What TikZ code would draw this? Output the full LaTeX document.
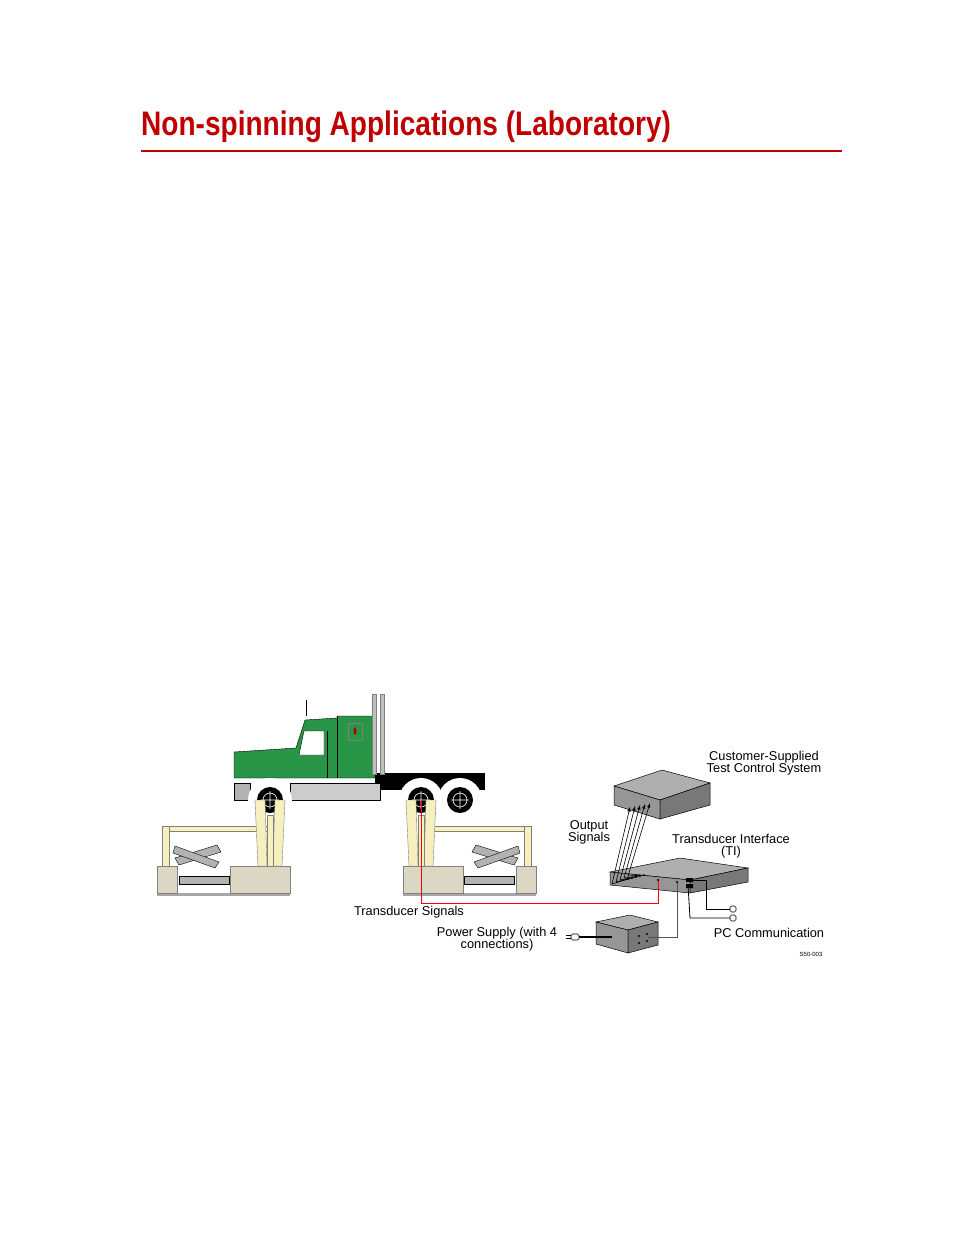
\documentclass[tikz,border=0pt]{standalone}
\usepackage{fontspec}
\setmainfont{Liberation Sans}
\usetikzlibrary{calc}
\definecolor{titlered}{RGB}{192,0,0}
\definecolor{cabgreen}{RGB}{40,150,70}
\definecolor{boxgray}{RGB}{150,150,150}
\definecolor{boxtop}{RGB}{175,175,175}
\definecolor{boxside}{RGB}{120,120,120}
\definecolor{rigyellow}{RGB}{245,240,190}
\definecolor{rigbeige}{RGB}{220,215,195}
\tikzset{
  lbl/.style={font=\fontsize{12.8}{12}\selectfont, align=center, inner sep=1pt},
  wire/.style={line width=0.8pt, black},
  face/.style={draw=black, line width=0.5pt},
  plug/.style={draw=black, line width=0.6pt, fill=white, rounded corners=1.5pt}
}
\begin{document}
\begin{tikzpicture}[x=1pt,y=-1pt]
    \useasboundingbox (0,0) rectangle (954,1235);
    % title
    \node[anchor=base west, inner sep=0, text=titlered, font=\fontsize{34}{34}\selectfont\bfseries, xscale=0.825, transform shape] (title) at (141,135) {Non-spinning Applications (Laboratory)};
    \draw[titlered, line width=1.2pt] (141,151) -- (842,151);
    % truck
    \fill[cabgreen, draw=black] (234,778) -- (234,752) -- (296,748) -- (305,720) -- (337,718) -- (337,716) -- (375,716) -- (375,778) -- cycle;
    \fill[white, draw=black] (304,731) -- (324,731) -- (324,755) -- (299,755) -- cycle;
    \draw[black] (337,716) -- (337,778) (327,731) -- (327,778);
    \fill[red!70!black] (355,731) ellipse (1.5 and 4);
    \draw[gray] (348,723) rectangle (362,740);
    \fill[black] (375,773) rectangle (485,790);
    \fill[gray!40, draw=black] (290,783) rectangle (380,800);
    \fill[gray!60, draw=black] (234,783) rectangle (250,800);
    \foreach \x in {372,380} {
      \fill[gray!50, draw=gray] (\x,694) rectangle ++(4,80);
    }
    \draw[black] (306,716) -- (306,700);
    \foreach \x/\n in {270/wf, 421/wr, 460/wt} {
      \fill[white] (\x,800) circle (22);
      \node[circle, fill=black, minimum size=26pt, inner sep=0] (\n) at (\x,800) {};
      \draw[white, line width=0.6pt] (\x,800) circle (7) (\x-9,800) -- (\x+9,800) (\x,791) -- (\x,809);
    }
    % test fixtures
    \foreach \xa/\xw/\s in {157/270/1, 536/421/-1} {
      \fill[gray!70] (\xa,893) rectangle (\xa+\s*133,896);
      \fill[rigbeige, draw=gray] (\xa,866) rectangle (\xa+\s*20,893);
      \fill[rigbeige, draw=gray] (\xa+\s*73,866) rectangle (\xa+\s*133,893);
      \fill[rigyellow, draw=gray] (\xa+\s*5,826) rectangle (\xa+\s*12,866);
      \fill[rigyellow, draw=gray] (\xa+\s*12,826) rectangle (\xw,831);
      \fill[rigyellow, draw=gray] (\xw-15,800) -- (\xw-5,800) -- (\xw-3,866) -- (\xw-12,866) -- cycle;
      \fill[rigyellow, draw=gray] (\xw+5,800) -- (\xw+15,800) -- (\xw+12,866) -- (\xw+3,866) -- cycle;
      \fill[rigyellow, draw=gray] (\xw-3,815) rectangle (\xw+3,866);
      \fill[gray!60, draw=black] (\xa+\s*18,858) -- (\xa+\s*60,845) -- (\xa+\s*64,852) -- (\xa+\s*22,865) -- cycle;
      \fill[gray!60, draw=black] (\xa+\s*18,846) -- (\xa+\s*62,862) -- (\xa+\s*58,868) -- (\xa+\s*16,853) -- cycle;
      \fill[gray!60, draw=black] (\xa+\s*22,876) rectangle (\xa+\s*72,884);
    }
    % customer-supplied test control system
    \fill[boxtop, face] (614,786) -- (662,770) -- (710,783) -- (660,800) -- cycle;
    \fill[boxgray, face] (614,786) -- (660,800) -- (660,819) -- (614,805) -- cycle;
    \fill[boxside, face] (660,800) -- (710,783) -- (710,805) -- (660,819) -- cycle;
    % transducer interface
    \fill[boxtop, face] (610,872) -- (680,858) -- (748,868) -- (690,880) -- cycle;
    \fill[boxgray, face] (610,872) -- (690,880) -- (690,893) -- (610,885) -- cycle;
    \fill[boxside, face] (690,880) -- (748,868) -- (748,882) -- (690,893) -- cycle;
    \coordinate (tired) at (658,880);
    \coordinate (tigray) at (677,882);
    \coordinate (tipc1) at (688,880);
    \coordinate (tipc2) at (688,885);
    % power supply
    \fill[boxtop, face] (596,922) -- (630,915) -- (658,922) -- (628,930) -- cycle;
    \fill[boxgray, face] (596,922) -- (628,930) -- (628,953) -- (596,944) -- cycle;
    \fill[boxside, face] (628,930) -- (658,922) -- (658,945) -- (628,953) -- cycle;
    \foreach \p in {(639,936),(647,934),(639,943),(647,941)} \fill \p circle (1.1);
    \coordinate (ps) at (648,937);
    \coordinate (psplug) at (575,937);
    % output signal wires
    \foreach \i in {0,...,4} {
      \draw[wire, line width=0.6pt, -{latex}] (628+4*\i,879-\i) -- (612+4*\i,884-2*\i) -- (630+5*\i,807-\i);
      \fill (628+4*\i,879-\i) circle (1);
    }
    % transducer signal wire
    \draw[red, line width=1pt] (wr.center) -- (421,903) -- (658,903) -- (tired);
    \fill (tired) circle (1.2);
    % power supply wire
    \draw[boxside!70!black, line width=0.8pt] (tigray) -- (677,937) -- (ps);
    \fill (tigray) circle (1.2);
    \draw[black, line width=1.5pt] (psplug) -- (612,937);
    \draw[plug] (571,934) rectangle (579,940);
    \draw (571,935.5) -- (566,935.5) (571,938.5) -- (566,938.5);
    % PC communication wires
    \fill[black] (686,878) rectangle (693,882) (686,884) rectangle (693,888);
    \draw[wire] (tipc1) -- (706,880) -- (706,909) -- (730,909);
    \draw[wire] (tipc2) -- (690,918) -- (730,918);
    \foreach \y in {909,918} \draw[plug] (730,\y-3) rectangle (736,\y+3);
    % labels
    \node[lbl] (lcts) at (764,763) {Customer-Supplied\\Test Control System};
    \node[lbl] (lout) at (589,832) {Output\\Signals};
    \node[lbl] (lti) at (731,846) {Transducer Interface\\(TI)};
    \node[lbl] (lts) at (409,912) {Transducer Signals};
    \node[lbl] (lps) at (497,939) {Power Supply (with 4\\connections)};
    \node[lbl] (lpc) at (769,933) {PC Communication};
    \node[lbl, font=\fontsize{6}{6}\selectfont] (lid) at (811,954) {S50-003};
\end{tikzpicture}
\end{document}
